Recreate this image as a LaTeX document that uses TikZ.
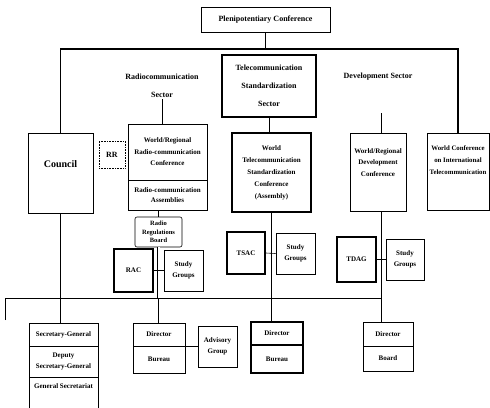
\documentclass[tikz,border=0pt]{standalone}
\usepackage{fontspec}
\setmainfont{Liberation Serif}
\begin{document}
\begin{tikzpicture}[x=1pt,y=-1pt,
  box/.style={draw, line width=0.6pt, inner sep=1pt, align=center,
    font=\bfseries\fontsize{7}{11.5}\selectfont},
  thickbox/.style={box, line width=1.5pt},
  dotbox/.style={box, densely dotted},
  lbl/.style={inner sep=1pt, align=center, font=\bfseries\fontsize{8}{18}\selectfont},
  conn/.style={line width=0.6pt},
  bar/.style={line width=1.6pt}]
\useasboundingbox (0,0) rectangle (490,407);
% top
\node[box, minimum width=129pt, minimum height=25pt, font=\bfseries\fontsize{8}{10}\selectfont] (plen) at (265.5,19.5) {Plenipotentiary Conference};
\coordinate (topL) at (59,49);
\node[thickbox, minimum width=94pt, minimum height=62pt, font=\bfseries\fontsize{8}{18}\selectfont] (tss) at (269,86) {Telecommunication\\Standardization\\Sector};
\node[lbl] (radiolbl) at (162,86) {Radiocommunication\\Sector};
\node[lbl] (devlbl) at (378,77) {Development Sector};
\coordinate (devc) at (381,113);
% second row
\node[box, minimum width=65pt, minimum height=80pt, font=\bfseries\fontsize{10}{12}\selectfont] (council) at (60.5,173) {Council\\[6pt]};
\node[dotbox, minimum width=26pt, minimum height=27pt, font=\bfseries\fontsize{8}{10}\selectfont] (rr) at (112,154.5) {RR};
\node[box, minimum width=79pt, minimum height=56pt] (wrc) at (167.5,152) {World/Regional\\Radio-communication\\Conference};
\node[box, minimum width=79pt, minimum height=30pt, font=\bfseries\fontsize{7}{10.5}\selectfont] (ra) at (167.5,195) {Radio-communication\\Assemblies};
\node[thickbox, minimum width=79pt, minimum height=79pt, font=\bfseries\fontsize{7}{12}\selectfont] (wtsc) at (271.5,172.5) {World\\Telecommunication\\Standardization\\Conference\\(Assembly)};
\node[box, minimum width=56pt, minimum height=78pt] (wrdc) at (378,172) {World/Regional\\Development\\Conference\\[8pt]};
\node[box, minimum width=62pt, minimum height=77pt, inner sep=0pt, font=\bfseries\fontsize{6.8}{12}\selectfont] (wcit) at (458,171.5) {World Conference\\on International\\Telecommunication\\[10pt]};
% third row
\node[box, rounded corners=2pt, minimum width=47pt, minimum height=30pt, font=\bfseries\fontsize{6.5}{8.5}\selectfont] (rrb) at (158.5,232) {Radio\\Regulations\\Board};
\node[thickbox, minimum width=39pt, minimum height=43pt] (rac) at (133.5,270.5) {RAC};
\node[box, minimum width=39pt, minimum height=41pt] (rsg) at (183.5,270.5) {Study\\Groups};
\node[thickbox, minimum width=38pt, minimum height=42pt] (tsac) at (246,253) {TSAC};
\node[box, minimum width=39pt, minimum height=41pt] (tsg) at (295.5,253.5) {Study\\Groups};
\node[thickbox, minimum width=39pt, minimum height=45pt] (tdag) at (356.5,259.5) {TDAG};
\node[box, minimum width=38pt, minimum height=41pt] (dsg) at (405,259.5) {Study\\Groups};
% bottom row
\coordinate (mainL) at (5,298);
\coordinate (mainE) at (5,320);
\node[box, minimum width=69pt, minimum height=23pt] (sg1) at (63.5,334.5) {Secretary-General};
\node[box, minimum width=69pt, minimum height=31pt, font=\bfseries\fontsize{7}{10.5}\selectfont] (sg2) at (63.5,361.5) {Deputy\\Secretary-General};
\node[box, minimum width=69pt, minimum height=36pt] (sg3) at (63.5,395) {General Secretariat\\[6pt]};
\node[box, minimum width=52pt, minimum height=23pt] (rdir) at (159,334.5) {Director};
\node[box, minimum width=52pt, minimum height=27pt] (rbur) at (159,359.5) {Bureau};
\node[box, minimum width=39pt, minimum height=41pt] (adv) at (217.5,346.5) {Advisory\\Group};
\node[thickbox, minimum width=52pt, minimum height=23pt] (tdir) at (277,333.5) {Director};
\node[thickbox, minimum width=52pt, minimum height=28pt] (tbur) at (277,359) {Bureau};
\node[box, minimum width=50pt, minimum height=24pt] (ddir) at (388,334) {Director};
\node[box, minimum width=50pt, minimum height=25pt] (dboard) at (388,358.5) {Board};
% connectors
\draw[bar] (plen.south) -- (plen.south |- topL);
\draw[bar] (council.north) -- (council.north |- topL) -- (wcit.north |- topL) -- (wcit.north);
\draw[conn] (radiolbl.south) -- (radiolbl.south |- wrc.north);
\draw[conn] (devc) -- (devc |- wrdc.north);
\draw[conn] (tss.south) -- (tss.south |- wtsc.north);
\draw[conn] (rrb.north |- ra.south) -- (rrb.north);
\draw[conn, double, double distance=2pt] (rrb.south) -- (rrb.south |- mainL);
\draw[conn] (rrb.south |- mainL) -- (rrb.south |- rdir.north);
\draw[conn] (rac.east) -- (rac.east -| rrb.south);
\draw[conn] (rsg.west) -- (rsg.west -| rrb.south);
\draw[conn] (wtsc.south) -- (wtsc.south |- tdir.north);
\draw[conn] (tsac.east) -- (tsg.west);
\draw[conn] (devc |- wrdc.south) -- (devc |- ddir.north);
\draw[conn] (tdag.east) -- (dsg.west);
\draw[conn] (mainE) -- (mainL) -- (devc |- mainL);
\draw[conn] (council.south) -- (council.south |- sg1.north);
\draw[conn] (rdir.south east) -- (rdir.south east -| adv.west);
\end{tikzpicture}
\end{document}
